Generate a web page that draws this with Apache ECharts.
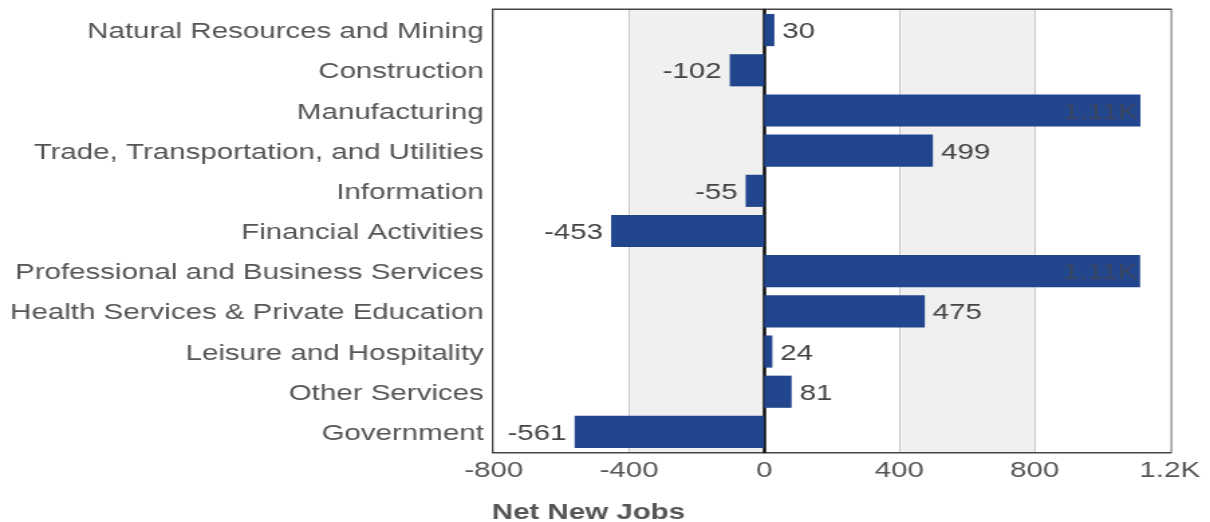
<!DOCTYPE html>
<html><head><meta charset="utf-8">
<script src="https://cdn.jsdelivr.net/npm/echarts@6/dist/echarts.min.js"></script>
<style>
html,body{margin:0;padding:0;background:#fff;overflow:hidden}
#wrap{width:1210px;height:522px;overflow:hidden}
#c{width:903px;height:522px;transform:scaleX(1.34);transform-origin:0 0}
</style>
</head><body><div id="wrap"><div id="c"></div></div>
<script>
const categories = ["Natural Resources and Mining","Construction","Manufacturing","Trade, Transportation, and Utilities","Information","Financial Activities","Professional and Business Services","Health Services & Private Education","Leisure and Hospitality","Other Services","Government"];
const values = [30,-102,1113,499,-55,-453,1112,475,24,81,-561];
const xTicks = {min:-800, max:1200, interval:400};
const axisTitle = "Net New Jobs";

function fmt(v){ return Math.abs(v) >= 1000 ? (v/1000).toFixed(2).replace(/0+$/,'').replace(/\.$/,'') + 'K' : String(v); }

const data = values.map(v => {
  const big = Math.abs(v) >= 1000;
  return {
    value: v,
    label: {
      position: big ? 'insideRight' : (v < 0 ? 'left' : 'right'),
      color: big ? '#3a4560' : '#444',
      distance: big ? 2 : 6
    }
  };
});

const chart = echarts.init(document.getElementById('c'));
chart.setOption({
  animation:false,
  textStyle:{fontFamily:'Liberation Sans, Arial, sans-serif'},
  title:{text:axisTitle, left:367, top:502, padding:0, textStyle:{fontSize:22, fontWeight:'bold', color:'#555', fontFamily:'Liberation Sans, Arial, sans-serif'}},
  grid:{left:368.5, right:30, top:10, bottom:70, show:true, borderColor:'#474747', borderWidth:3, backgroundColor:'transparent'},
  xAxis:{type:'value', min:xTicks.min, max:xTicks.max, interval:xTicks.interval,
    axisLine:{show:false}, axisTick:{show:false},
    axisLabel:{fontSize:22, color:'#555', margin:8, formatter:v => fmt(v)},
    splitLine:{show:true, lineStyle:{color:'#c8c8c8', width:1}},
    splitArea:{show:true, areaStyle:{color:['#ffffff','#f0f0f0']}}
  },
  yAxis:{type:'category', data:categories, inverse:true,
    axisLine:{show:true, onZero:true, lineStyle:{color:'#111', width:2.5}},
    axisTick:{show:false},
    axisLabel:{margin:7.5, formatter:v => '{a|' + v + '}',
      rich:{a:{fontSize:22, color:'#555', padding:[4,0,0,0], fontFamily:'Liberation Sans, Arial, sans-serif'}}},
    splitLine:{show:false}
  },
  series:[{type:'bar', data:data, barCategoryGap:'20%', itemStyle:{color:'#22468e'},
    label:{show:true, fontSize:22, offset:[0,2], formatter:p => fmt(p.value)}, z:1}]
});
</script></body></html>
